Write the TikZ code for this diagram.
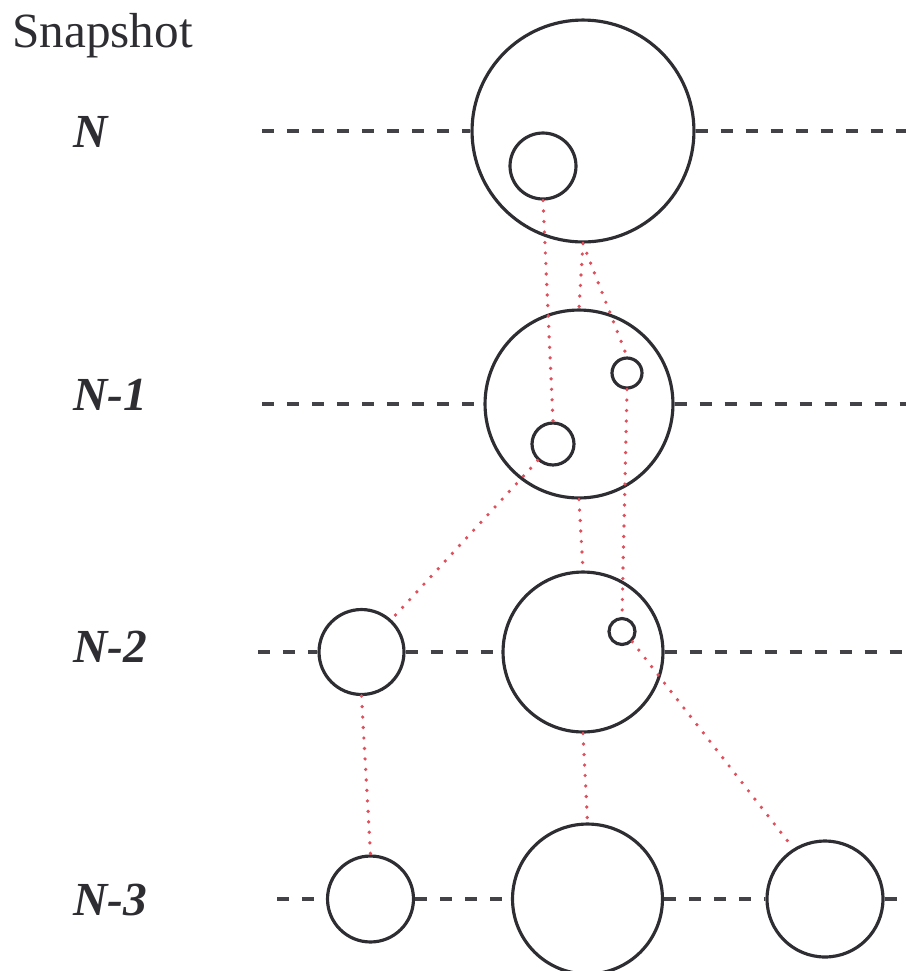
\documentclass[tikz,border=0pt]{standalone}
\usepackage{fontspec}
\setmainfont{Liberation Serif}
\definecolor{ink}{RGB}{45,45,50}
\definecolor{dotred}{RGB}{222,80,92}
\tikzset{
  circ/.style={circle, draw=ink, line width=1.8pt, inner sep=0pt, minimum size={#1*0.04cm}},
  track/.style={draw=ink!90, line width=2.1pt, dash pattern=on 0.24cm off 0.26cm},
  link/.style={draw=dotred, line width=2.1pt, line cap=round, dash pattern=on 0pt off 0.21cm},
  lbl/.style={anchor=base west, inner sep=0pt, font=\fontsize{27}{32}\selectfont\bfseries\itshape, text=ink},
}
\begin{document}
\begin{tikzpicture}[x=0.02cm, y=-0.02cm]
\useasboundingbox (0,0) rectangle (906,971);
% title
\node[anchor=base west, inner sep=0pt, font=\fontsize{28}{33}\selectfont, text=ink] (title) at (12,47) {Snapshot};
% row labels
\node[lbl] (lN)  at (73,147) {N};
\node[lbl] (lN1) at (73,410) {N-1};
\node[lbl] (lN2) at (73,662) {N-2};
\node[lbl] (lN3) at (73,915) {N-3};
% snapshot N
\node[circ=111] (N)   at (583,131) {};
\node[circ=33]  (Ns)  at (543,166) {};
% snapshot N-1
\node[circ=94]  (M)   at (579,404) {};
\node[circ=15]  (Ma)  at (627,373) {};
\node[circ=21]  (Mb)  at (553,444) {};
% snapshot N-2
\node[circ=42.5] (Pl) at (361.5,652) {};
\node[circ=80]   (P)  at (583,652) {};
\node[circ=13]   (Ps) at (622,631.5) {};
% snapshot N-3
\node[circ=43]  (Ql)  at (370.5,899) {};
\node[circ=75]  (Q)   at (587.5,899) {};
\node[circ=58]  (Qr)  at (825,899) {};
% track end points
\coordinate (aL) at (262,131);
\coordinate (aR) at (906,131);
\coordinate (bL) at (262,404);
\coordinate (bR) at (906,404);
\coordinate (cL) at (258,652);
\coordinate (cR) at (906,652);
\coordinate (dL) at (277,899);
\coordinate (dR) at (906,899);
% dashed tracks
\draw[track] (aL) -- (N.west);
\draw[track] (N.east) -- (aR);
\draw[track] (bL) -- (M.west);
\draw[track] (M.east) -- (bR);
\draw[track] (cL) -- (Pl.west);
\draw[track] (Pl.east) -- (P.west);
\draw[track] (P.east) -- (cR);
\draw[track] (dL) -- (Ql.west);
\draw[track] (Ql.east) -- (Q.west);
\draw[track] (Q.east) -- (Qr.west);
\draw[track] (Qr.east) -- (dR);
% red dotted links
\draw[link] (Ns.south) -- (Mb.north);
\draw[link] (N.south) -- (M.north);
\draw[link] (N.south) -- (Ma.north);
\draw[link] (Ma.south) -- (Ps.north);
\draw[link] (Mb) -- (Pl);
\draw[link] (M.south) -- (P.north);
\draw[link] (Pl.south) -- (Ql.north);
\draw[link] (P.south) -- (Q.north);
\draw[link] (Ps.south east) -- (Qr.122);
\end{tikzpicture}
\end{document}
